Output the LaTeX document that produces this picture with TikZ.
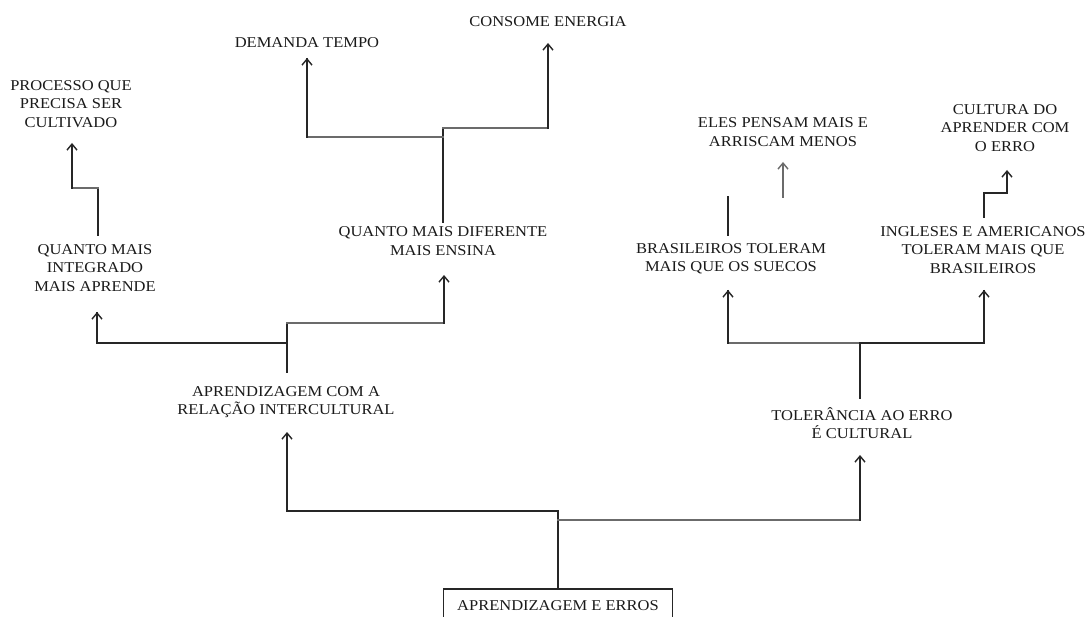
\documentclass[tikz,border=0pt]{standalone}
\usepackage{fontspec}
\setmainfont[FakeStretch=1.1]{Liberation Serif}
\usetikzlibrary{arrows.meta,calc}
\definecolor{ink}{HTML}{1A1A1A}
\definecolor{wire}{HTML}{262626}
\definecolor{wiregray}{HTML}{6B6B6B}

\begin{document}
\begin{tikzpicture}[x=1pt,y=-1pt,
  label/.style={font=\fontsize{15}{18.5}\selectfont, text=ink, align=center, inner sep=0pt},
  rootbox/.style={label, draw=wire, line width=1.4pt, minimum width=229pt, minimum height=34pt},
  thin/.style={draw=wire, line width=1.4pt, line cap=rect},
  med/.style={draw=wire, line width=2pt, line cap=rect},
  thick/.style={draw=wire, line width=2.6pt, line cap=rect},
  grayln/.style={draw=wiregray, line width=1.8pt, line cap=rect},
  tip/.style={-{Straight Barb[length=6pt,width=10pt,line width=1.4pt]}},
]
% canvas
\fill[white] (0,0) rectangle (1086,617);
\useasboundingbox (0,0) rectangle (1086,617);

% texts
\node[label] (consome) at (548,22) {CONSOME ENERGIA};
\node[label] (demanda) at (307,43) {DEMANDA TEMPO};
\node[label] (processo) at (71,104) {PROCESSO QUE\\PRECISA SER\\CULTIVADO};
\node[label] (integ) at (95,268) {QUANTO MAIS\\INTEGRADO\\MAIS APRENDE};
\node[label] (difer) at (443,241) {QUANTO MAIS DIFERENTE\\MAIS ENSINA};
\node[label] (relac) at (286,402) {APRENDIZAGEM COM A\\RELAÇÃO INTERCULTURAL};
\node[label] (toler) at (862,423) {TOLERÂNCIA AO ERRO\\É CULTURAL};
\node[label] (bras) at (731,259) {BRASILEIROS TOLERAM\\MAIS QUE OS SUECOS};
\node[label] (ingl) at (983,250) {INGLESES E AMERICANOS\\TOLERAM MAIS QUE\\BRASILEIROS};
\node[label] (eles) at (783,132) {ELES PENSAM MAIS E\\ARRISCAM MENOS};
\node[label] (cultura) at (1005,128) {CULTURA DO\\APRENDER COM\\O ERRO};
\node[rootbox] (root) at (558,606) {APRENDIZAGEM E ERROS};

% junction points
\coordinate (kTop) at (443,128);
\coordinate (kTopL) at (443,137);
\coordinate (kCons) at (548,128);
\coordinate (kDem) at (307,137);
\coordinate (pA) at (98,188);
\coordinate (pB) at (72,188);
\coordinate (rJ) at (287,343);
\coordinate (rL) at (97,343);
\coordinate (rM) at (287,323);
\coordinate (rR) at (444,323);
\coordinate (bJ) at (558,511);
\coordinate (bJ2) at (558,520);
\coordinate (bL) at (287,511);
\coordinate (bR) at (860,520);
\coordinate (tJ) at (860,343);
\coordinate (tL) at (728,343);
\coordinate (tR) at (984,343);
\coordinate (eB) at (728,197);
\coordinate (eA) at (783,197);
\coordinate (cA) at (984,193);
\coordinate (cB) at (1007,193);

% top branch: time and energy
\draw[thin] ($(difer)+(0,-19)$) -- (kTop);
\draw[grayln] (kTop) -- (kCons);
\draw[thin,tip] (kCons) -- ($(consome)+(0,21)$);
\draw[grayln,line width=2.4pt] (kTopL) -- (kDem);
\draw[thick,tip] (kDem) -- ($(demanda)+(0,15)$);

% integration -> process to cultivate
\draw[thin] ($(integ)+(3,-33)$) -- (pA);
\draw[grayln,line width=1.4pt] (pA) -- (pB);
\draw[thin,tip] (pB) -- ($(processo)+(1,39)$);

% intercultural learning
\draw[thin] ($(relac)+(1,-30)$) -- (rJ);
\draw[thick] (rJ) -- (rL);
\draw[thick,tip] (rL) -- ($(integ)+(2,44)$);
\draw[thin] (rJ) -- (rM);
\draw[grayln] (rM) -- (rR);
\draw[thin,tip] (rR) -- ($(difer)+(1,34)$);

% root
\draw[med] (root.north) -- (bJ) -- (bL);
\draw[med,tip] (bL) -- ($(relac)+(1,30)$);
\draw[grayln] (bJ2) -- (bR);
\draw[med,tip] (bR) -- ($(toler)+(-2,32)$);

% tolerance branch
\draw[med] ($(toler)+(-2,-25)$) -- (tJ);
\draw[grayln] (tJ) -- (tL);
\draw[thick,tip] (tL) -- ($(bras)+(-3,31)$);
\draw[thick] (tJ) -- (tR);
\draw[thick,tip] (tR) -- ($(ingl)+(1,40)$);

% Brazilians -> think more
\draw[med] ($(bras)+(-3,-24)$) -- (eB);
\draw[grayln,line width=2.4pt,tip] (eA) -- ($(eles)+(0,30)$);

% English and Americans -> culture of learning
\draw[med] ($(ingl)+(1,-33)$) -- (cA) -- (cB);
\draw[med,tip] (cB) -- ($(cultura)+(2,42)$);
\end{tikzpicture}
\end{document}
